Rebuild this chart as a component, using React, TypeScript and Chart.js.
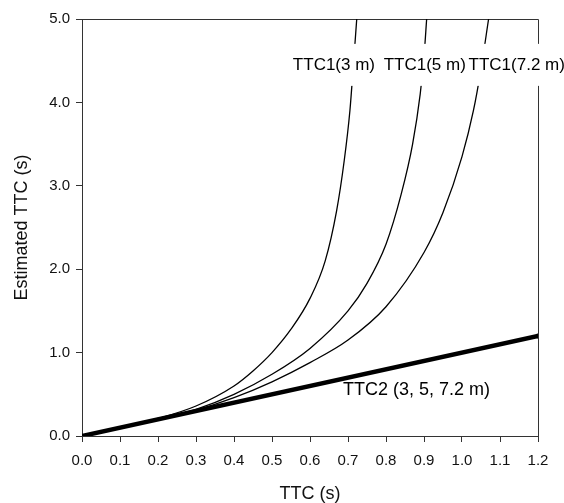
import React, { useEffect, useRef } from "react";
import { Chart, registerables } from "chart.js";

Chart.register(...registerables);

// TTC1 (3 m)
const ttc1_3m_x = [0, 0.1, 0.2, 0.3, 0.4, 0.45, 0.5, 0.55, 0.6, 0.64, 0.67, 0.69, 0.705, 0.715, 0.723];
const ttc1_3m_y = [0, 0.1, 0.21, 0.36, 0.6, 0.78, 1.0, 1.28, 1.65, 2.1, 2.7, 3.3, 3.9, 4.5, 5.0];
// TTC1 (5 m)
const ttc1_5m_x = [0, 0.1, 0.2, 0.3, 0.4, 0.5, 0.6, 0.7, 0.75, 0.8, 0.84, 0.87, 0.89, 0.9, 0.907];
const ttc1_5m_y = [0, 0.1, 0.2, 0.32, 0.5, 0.74, 1.05, 1.5, 1.83, 2.3, 2.9, 3.5, 4.1, 4.55, 5.0];
// TTC1 (7.2 m)
const ttc1_72m_x = [0, 0.1, 0.2, 0.3, 0.4, 0.5, 0.6, 0.7, 0.8, 0.9, 0.95, 1.0, 1.03, 1.05, 1.07];
const ttc1_72m_y = [0, 0.1, 0.2, 0.31, 0.46, 0.65, 0.88, 1.15, 1.55, 2.2, 2.68, 3.35, 3.9, 4.4, 5.0];
// TTC2 (3, 5, 7.2 m)
const ttc2_x = [0, 1.2];
const ttc2_y = [0, 1.2];

// Annotation labels (anchors in data units)
const labelTexts = ["TTC1(3 m)", "TTC1(5 m)", "TTC1(7.2 m)", "TTC2 (3, 5, 7.2 m)"];
const labelX = [0.663, 0.902, 1.144, 0.687];
const labelY = [4.45, 4.45, 4.45, 0.55];

const X_MIN = 0, X_MAX = 1.2, X_STEP = 0.1;
const Y_MIN = 0, Y_MAX = 5, Y_STEP = 1;

const FONT = '"Liberation Sans", Arial, Helvetica, sans-serif';

const zip = (xs: number[], ys: number[]) => xs.map((x, i) => ({ x, y: ys[i] }));

const annotationPlugin = {
  id: "annot",
  beforeDatasetsDraw(chart: any) {
    const { ctx, chartArea } = chart;
    ctx.save();
    ctx.strokeStyle = "#333";
    ctx.lineWidth = 1;
    ctx.beginPath();
    ctx.moveTo(chartArea.left, chartArea.top + 0.5);
    ctx.lineTo(chartArea.right + 0.5, chartArea.top + 0.5);
    ctx.lineTo(chartArea.right + 0.5, chartArea.bottom);
    ctx.stroke();
    ctx.restore();
  },
  afterDatasetsDraw(chart: any) {
    const { ctx } = chart;
    const xs = chart.scales.x;
    const ys = chart.scales.y;
    ctx.save();
    ctx.textBaseline = "middle";
    for (let i = 0; i < labelTexts.length; i++) {
      const px = xs.getPixelForValue(labelX[i]);
      const py = ys.getPixelForValue(labelY[i]);
      if (i < 3) {
        ctx.font = `17px ${FONT}`;
        const w = ctx.measureText(labelTexts[i]).width;
        ctx.fillStyle = "#fff";
        ctx.fillRect(px - w / 2 - 3, py - 21, w + 6, 42);
        ctx.fillStyle = "#000";
        ctx.textAlign = "center";
        ctx.fillText(labelTexts[i], px, py);
      } else {
        ctx.font = `18px ${FONT}`;
        ctx.fillStyle = "#000";
        ctx.textAlign = "left";
        ctx.fillText(labelTexts[i], px, py);
      }
    }
    ctx.restore();
  },
};

export default function App() {
  const ref = useRef<HTMLCanvasElement | null>(null);

  useEffect(() => {
    if (!ref.current) return;
    const thin = {
      borderColor: "#000",
      borderWidth: 1.3,
      pointRadius: 0,
      cubicInterpolationMode: "monotone" as const,
      fill: false,
    };
    const chart = new Chart(ref.current, {
      type: "line",
      data: {
        datasets: [
          { label: "TTC1(3 m)", data: zip(ttc1_3m_x, ttc1_3m_y), ...thin },
          { label: "TTC1(5 m)", data: zip(ttc1_5m_x, ttc1_5m_y), ...thin },
          { label: "TTC1(7.2 m)", data: zip(ttc1_72m_x, ttc1_72m_y), ...thin },
          {
            label: "TTC2 (3, 5, 7.2 m)",
            data: zip(ttc2_x, ttc2_y),
            borderColor: "#000",
            backgroundColor: "#000",
            borderWidth: 4.5,
            pointRadius: [0, 2.5],
            pointBorderWidth: 0,
            fill: false,
          },
        ],
      },
      options: {
        responsive: false,
        animation: false,
        events: [],
        layout: { padding: { top: 19, right: 26, left: 0, bottom: 0 } },
        plugins: { legend: { display: false }, tooltip: { enabled: false } },
        scales: {
          x: {
            type: "linear",
            min: X_MIN,
            max: X_MAX,
            afterFit: (s: any) => { s.height = 67; },
            ticks: {
              stepSize: X_STEP,
              autoSkip: false,
              maxRotation: 0,
              padding: 10,
              color: "#111",
              font: { family: FONT, size: 15 },
              callback: (v: any) => Number(v).toFixed(1),
            },
            grid: { display: true, drawOnChartArea: false, drawTicks: true, tickLength: 6, color: "#333" },
            border: { display: true, color: "#333", width: 1 },
            title: {
              display: true,
              text: "TTC (s)",
              color: "#111",
              font: { family: FONT, size: 18 },
              padding: { top: 0, bottom: -2 },
            },
          },
          y: {
            type: "linear",
            min: Y_MIN,
            max: Y_MAX,
            afterFit: (s: any) => { s.width = 82; },
            ticks: {
              stepSize: Y_STEP,
              padding: 6,
              color: "#111",
              font: { family: FONT, size: 15 },
              callback: (v: any) => Number(v).toFixed(1),
            },
            grid: { display: true, drawOnChartArea: false, drawTicks: true, tickLength: 6, color: "#333" },
            border: { display: true, color: "#333", width: 1 },
            title: {
              display: true,
              text: "Estimated TTC (s)",
              color: "#111",
              font: { family: FONT, size: 18 },
              padding: { top: 11, bottom: 0 },
            },
          },
        },
      },
      plugins: [annotationPlugin],
    });
    return () => chart.destroy();
  }, []);

  return (
    <div style={{ position: "absolute", left: 0, top: 0, width: 564, height: 503, background: "#fff" }}>
      <canvas ref={ref} width={564} height={503} style={{ display: "block" }} />
    </div>
  );
}
